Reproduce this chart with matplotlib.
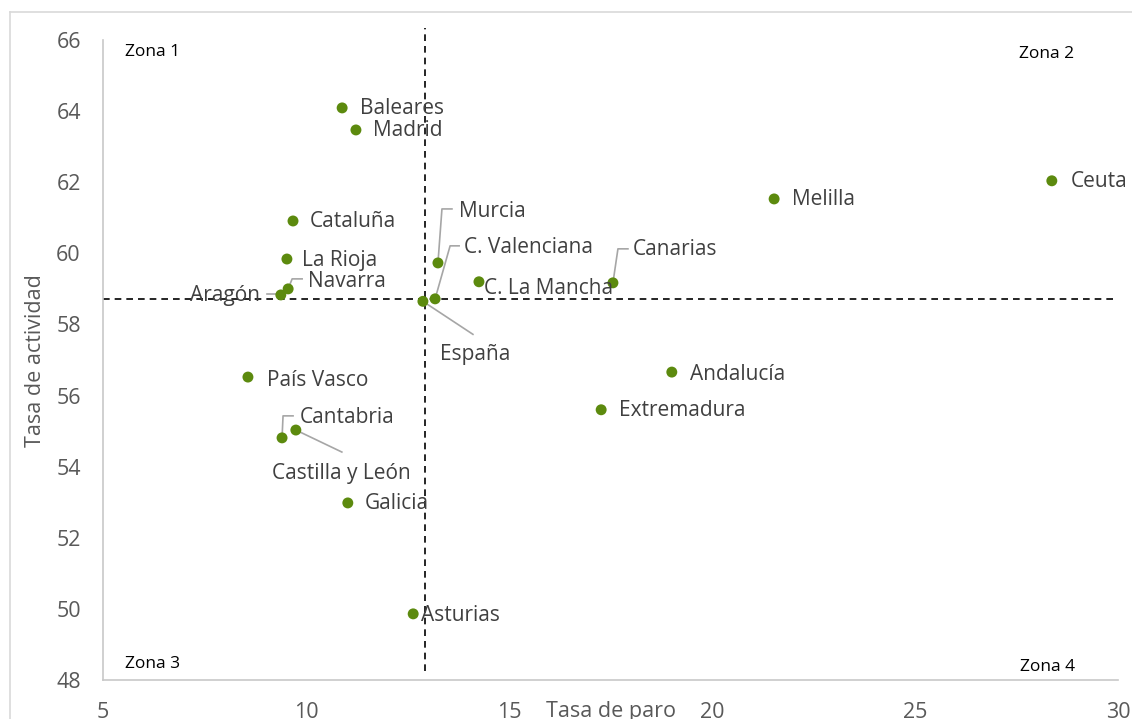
import matplotlib
matplotlib.use("Agg")
import matplotlib.pyplot as plt
from matplotlib.lines import Line2D

# ---- data ----
regions = ["Baleares", "Madrid", "Cataluña", "La Rioja", "Navarra", "Aragón",
           "España", "C. Valenciana", "Murcia", "C. La Mancha", "Canarias",
           "Melilla", "Ceuta", "Andalucía", "Extremadura", "País Vasco",
           "Cantabria", "Castilla y León", "Galicia", "Asturias"]
tasa_paro = [10.89, 11.23, 9.68, 9.53, 9.56, 9.38,
             12.88, 13.18, 13.25, 14.26, 17.56,
             21.53, 28.37, 19.01, 17.27, 8.57,
             9.41, 9.75, 11.03, 12.64]
tasa_actividad = [64.09, 63.47, 60.91, 59.84, 59.00, 58.83,
                  58.65, 58.72, 59.73, 59.20, 59.17,
                  61.53, 62.04, 56.66, 55.60, 56.52,
                  54.81, 55.03, 52.98, 49.86]
ref_paro = 12.93
ref_actividad = 58.72
x_ticks = [5, 10, 15, 20, 25, 30]
y_ticks = [48, 50, 52, 54, 56, 58, 60, 62, 64, 66]
zonas = ["Zona 1", "Zona 2", "Zona 3", "Zona 4"]

# ---- label placement (offsets in pixels, leader polyline offsets in pixels) ----
placement = {
    "Baleares": (18, -1, "left", "center", None),
    "Madrid": (17, -1, "left", "center", None),
    "Cataluña": (17, -1, "left", "center", None),
    "La Rioja": (15, -1, "left", "center", None),
    "Navarra": (20, 7, "left", "center", [(0, 0), (4, 10), (14, 10)]),
    "Aragón": (-21, -1, "right", "center", [(-1, 1), (-14, 1)]),
    "España": (52, -53, "center", "center", [(0, 0), (50, -33)]),
    "C. Valenciana": (29, 51, "left", "center", [(0, 0), (15, 53), (24, 53)]),
    "Murcia": (21, 51, "left", "center", [(0, 0), (4, 54), (14, 54)]),
    "C. La Mancha": (5, -7, "left", "center", None),
    "Canarias": (20, 33, "left", "center", [(0, 0), (5, 34), (15, 34)]),
    "Melilla": (18, -1, "left", "center", None),
    "Ceuta": (19, -1, "left", "center", None),
    "Andalucía": (18, -2, "left", "center", None),
    "Extremadura": (18, -1, "left", "center", None),
    "País Vasco": (19, -3, "left", "center", None),
    "Cantabria": (18, 20, "left", "center", [(0, 0), (1, 22), (11, 22)]),
    "Castilla y León": (46, -43, "center", "center", [(0, 0), (46, -22)]),
    "Galicia": (17, -1, "left", "center", None),
    "Asturias": (8, -2, "left", "center", None),
}

FONT = ["Open Sans", "DejaVu Sans"]
plt.rcParams["font.family"] = FONT

W, H, DPI = 1132, 719, 100
fig = plt.figure(figsize=(W / DPI, H / DPI), dpi=DPI)
fig.patch.set_facecolor("white")

# outer chart border (only top/left edges visible in the crop)
fig.add_artist(Line2D([10 / W, 1.0], [1 - 12 / H, 1 - 12 / H], color="#d9d9d9", lw=1.2))
fig.add_artist(Line2D([10 / W, 10 / W], [1 - 12 / H, 0.0], color="#d9d9d9", lw=1.2))

ax_l, ax_r, ax_b, ax_t = 103 / W, 1118 / W, 1 - 680 / H, 1 - 40 / H
ax = fig.add_axes([ax_l, ax_b, ax_r - ax_l, ax_t - ax_b])
ax.set_xlim(5, 30)
ax.set_ylim(48, 66)

for s in ["top", "right"]:
    ax.spines[s].set_visible(False)
for s in ["left", "bottom"]:
    ax.spines[s].set_color("#c8c8c8")
    ax.spines[s].set_linewidth(1.2)

ax.set_xticks(x_ticks)
ax.set_yticks(y_ticks)
ax.tick_params(axis="both", length=0, colors="#595959", labelsize=15.5)
ax.tick_params(axis="x", pad=16)
ax.tick_params(axis="y", pad=16)

# reference dashed lines
ax.plot([ref_paro, ref_paro], [48.25, 66.35], ls=(0, (4, 3)), color="black",
        lw=1.2, clip_on=False, zorder=1)
ax.plot([5, 30], [ref_actividad, ref_actividad], ls=(0, (4, 3)), color="black",
        lw=1.2, clip_on=False, zorder=1)

# points
ax.scatter(tasa_paro, tasa_actividad, s=62, color="#5c8a0e", zorder=3,
           edgecolors="none")

# labels + leader lines
to_px = ax.transData
inv = ax.transData.inverted()
fig.canvas.draw()
for name, x, y in zip(regions, tasa_paro, tasa_actividad):
    dx, dy, ha, va, leader = placement[name]
    if leader:
        px, py = to_px.transform((x, y))
        pts = [inv.transform((px + lx, py + ly)) for lx, ly in leader]
        ax.plot([p[0] for p in pts], [p[1] for p in pts], color="#a6a6a6",
                lw=1.2, zorder=2, clip_on=False)
    ax.annotate(name, (x, y), xytext=(dx, dy), textcoords="offset pixels",
                ha=ha, va=va, fontsize=15, color="#404040", zorder=4,
                annotation_clip=False)

# zone labels
zona_pos = [(0.0217, 0.981), (0.902, 0.978), (0.0217, 0.025), (0.903, 0.020)]
for z, (zx, zy) in zip(zonas, zona_pos):
    ax.text(zx, zy, z, transform=ax.transAxes, ha="left", va="center",
            fontsize=12.5, color="black")

# axis titles
fig.text(611 / W, 1 - 712 / H, "Tasa de paro", ha="center", va="center",
         fontsize=15.5, color="#595959")
fig.text(36 / W, 1 - 361 / H, "Tasa de actividad", ha="center", va="center",
         rotation=90, fontsize=15.5, color="#595959")

fig.savefig("out.png", dpi=DPI, facecolor="white")
